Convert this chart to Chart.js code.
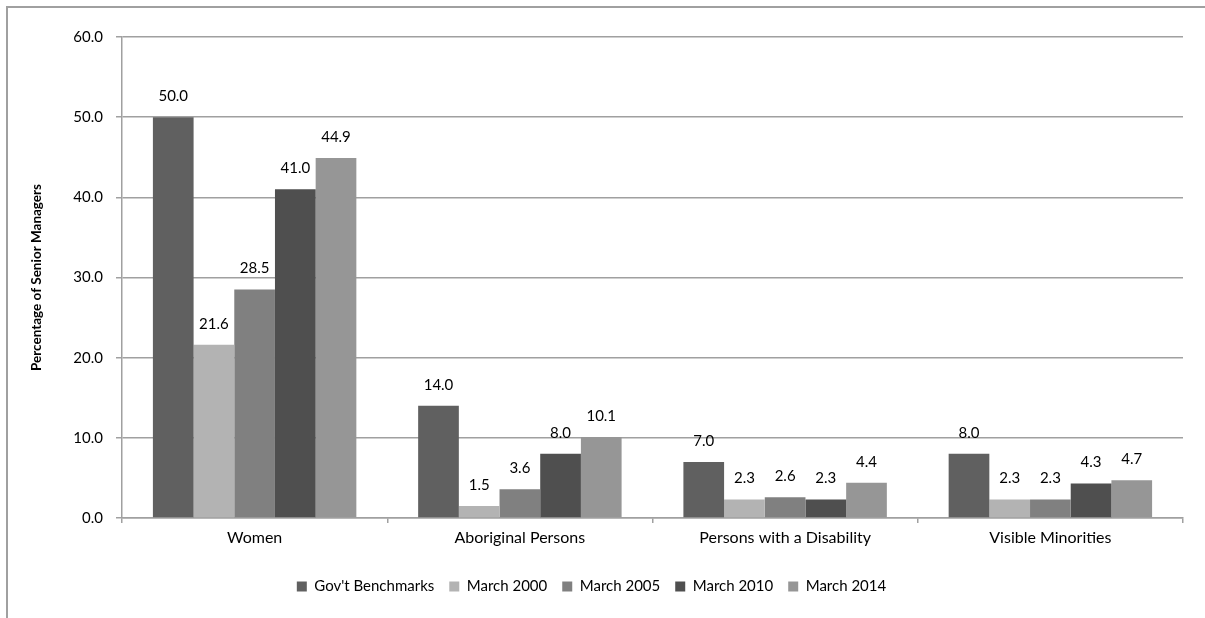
<!DOCTYPE html>
<html>
<head>
<meta charset="utf-8">
<script src="https://cdn.jsdelivr.net/npm/chart.js@4/dist/chart.umd.min.js"></script>
<style>
  html, body { margin: 0; padding: 0; background: #fff; }
  #wrap { width: 1205px; height: 618px; position: relative; }
</style>
</head>
<body>
<div id="wrap"><canvas id="chart"></canvas></div>
<script>
const groups = ['Women', 'Aboriginal Persons', 'Persons with a Disability', 'Visible Minorities'];
const benchmarks = [50.0, 14.0, 7.0, 8.0];
const march2000 = [21.6, 1.5, 2.3, 2.3];
const march2005 = [28.5, 3.6, 2.6, 2.3];
const march2010 = [41.0, 8.0, 2.3, 4.3];
const march2014 = [44.9, 10.1, 4.4, 4.7];
const yTicks = [0, 10, 20, 30, 40, 50, 60];

const FONT = 'Lato, "Open Sans", sans-serif';

// value above each bar
const barValues = {
  id: 'barValues',
  afterDatasetsDraw(chart) {
    const ctx = chart.ctx;
    ctx.save();
    ctx.font = '15px ' + FONT;
    ctx.fillStyle = '#000';
    ctx.textAlign = 'center';
    ctx.textBaseline = 'middle';
    chart.data.datasets.forEach((ds, i) => {
      chart.getDatasetMeta(i).data.forEach((bar, j) => {
        ctx.fillText(ds.data[j].toFixed(1), bar.x, bar.y - 21);
      });
    });
    ctx.restore();
  }
};

// thin frame round the top and left
const frame = {
  id: 'frame',
  beforeDraw(chart) {
    const ctx = chart.ctx;
    ctx.save();
    ctx.strokeStyle = '#a0a0a0';
    ctx.lineWidth = 2;
    ctx.beginPath();
    ctx.moveTo(1205, 7);
    ctx.lineTo(7, 7);
    ctx.lineTo(7, 618);
    ctx.stroke();
    ctx.restore();
  }
};

const mk = (label, data, color) => ({
  label: label,
  data: data,
  backgroundColor: color,
  borderWidth: 0,
  categoryPercentage: 0.767,
  barPercentage: 1.0
});

new Chart(document.getElementById('chart'), {
  type: 'bar',
  data: {
    labels: groups,
    datasets: [
      mk("Gov't Benchmarks", benchmarks, '#606060'),
      mk('March 2000', march2000, '#b3b3b3'),
      mk('March 2005', march2005, '#808080'),
      mk('March 2010', march2010, '#4f4f4f'),
      mk('March 2014', march2014, '#969696')
    ]
  },
  options: {
    responsive: true,
    maintainAspectRatio: false,
    animation: false,
    layout: { padding: { top: 37, left: 0, right: 22, bottom: 14 } },
    plugins: {
      tooltip: { enabled: false },
      legend: {
        position: 'bottom',
        labels: {
          boxWidth: 10,
          boxHeight: 10,
          padding: 15,
          color: '#000',
          font: { family: FONT, size: 15 }
        }
      }
    },
    scales: {
      x: {
        afterFit: s => { s.height = 46; },
        border: { color: '#a0a0a0', width: 1.5 },
        grid: { drawOnChartArea: false, drawTicks: true, tickLength: 5, color: '#a0a0a0', lineWidth: 1.5 },
        ticks: { color: '#000', padding: 5, font: { family: FONT, size: 16 } }
      },
      y: {
        min: 0,
        max: 60,
        afterFit: s => { s.width = 122; },
        afterBuildTicks: s => { s.ticks = yTicks.map(v => ({ value: v })); },
        border: { color: '#a0a0a0', width: 1.5 },
        grid: { color: '#a0a0a0', lineWidth: 1.5, tickLength: 6 },
        ticks: {
          color: '#000',
          padding: 13,
          font: { family: FONT, size: 15 },
          callback: v => v.toFixed(1)
        },
        title: {
          display: true,
          text: 'Percentage of Senior Managers',
          color: '#000',
          padding: { top: 29, bottom: 0 },
          font: { family: FONT, size: 13.5, weight: 'bold' }
        }
      }
    }
  },
  plugins: [frame, barValues]
});
</script>
</body>
</html>
